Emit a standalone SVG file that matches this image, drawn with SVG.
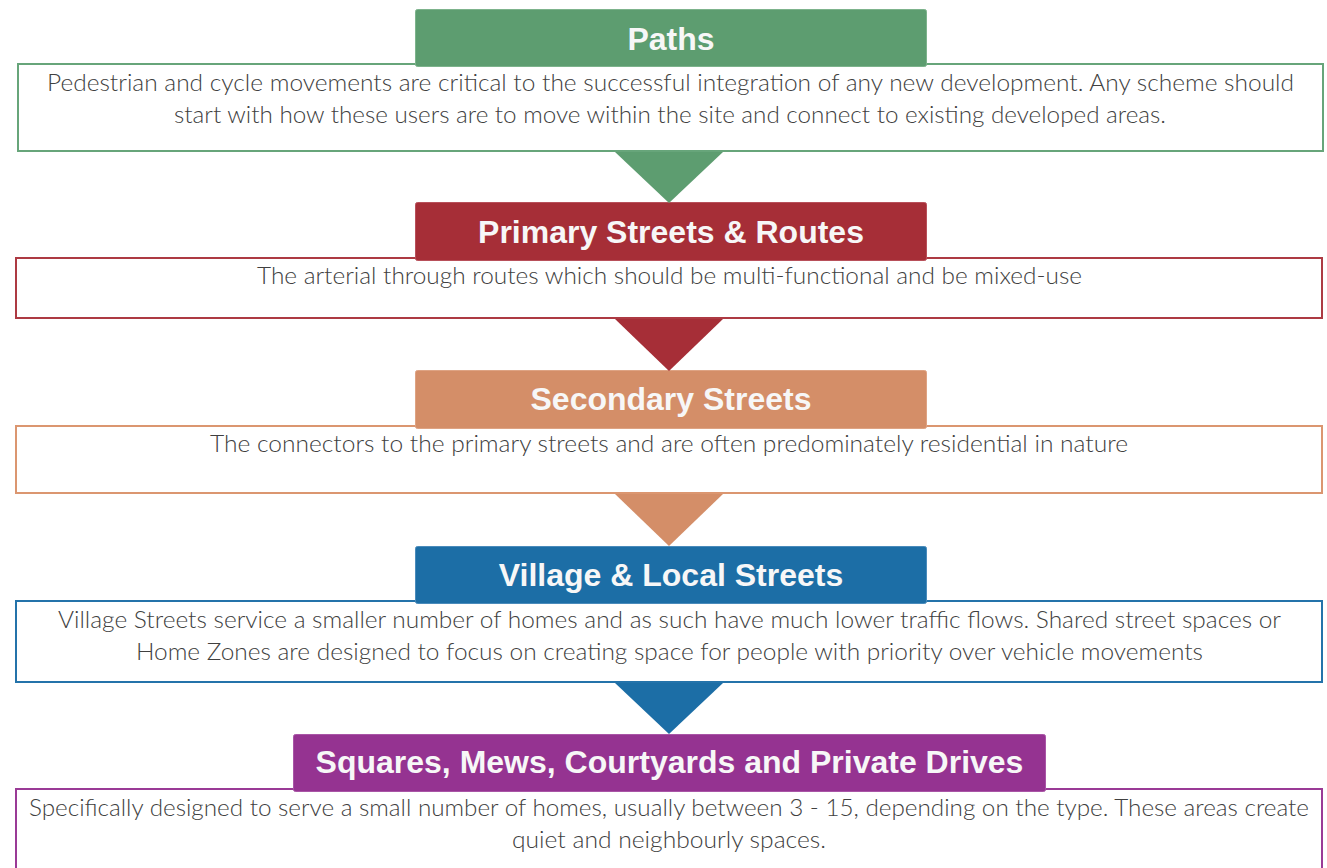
<svg xmlns="http://www.w3.org/2000/svg" width="1327" height="868" viewBox="0 0 1327 868">
<style>
.box{fill:#ffffff;stroke-width:2}
.hdr{stroke-width:1}
.ht{font-family:"Liberation Sans",Arial,sans-serif;font-weight:bold;font-size:32px;fill:#f7f7f7;text-anchor:middle}
.bt{font-family:Lato,"Open Sans","Liberation Sans",sans-serif;font-weight:300;font-size:23px;fill:#404040;text-anchor:middle}
</style>
<rect width="1327" height="868" fill="#ffffff"/>
<g id="node-paths">
<rect class="box" x="18" y="64" width="1305" height="87" stroke="#67a57a"/>
<rect class="hdr" x="415.5" y="9.5" width="511" height="57" rx="2" fill="#5d9d70" stroke="#7db38c"/>
<text class="ht" x="671" y="50">Paths</text>
<text class="bt" x="670.5" y="91" textLength="1247" lengthAdjust="spacingAndGlyphs">Pedestrian and cycle movements are critical to the successful integration of any new development. Any scheme should</text>
<text class="bt" x="670" y="123" textLength="992" lengthAdjust="spacingAndGlyphs">start with how these users are to move within the site and connect to existing developed areas.</text>
</g>
<g id="node-primary">
<rect class="box" x="16" y="258" width="1306" height="60" stroke="#ad3a43"/>
<rect class="hdr" x="415.5" y="202.5" width="511" height="58" rx="2" fill="#a62e37" stroke="#b8505a"/>
<text class="ht" x="671" y="243">Primary Streets &amp; Routes</text>
<text class="bt" x="669.5" y="284" textLength="825" lengthAdjust="spacingAndGlyphs">The arterial through routes which should be multi-functional and be mixed-use</text>
</g>
<g id="node-secondary">
<rect class="box" x="16" y="426" width="1306" height="67" stroke="#db9670"/>
<rect class="hdr" x="415.5" y="370.5" width="511" height="58" rx="2" fill="#d48e68" stroke="#dea383"/>
<text class="ht" x="671" y="410">Secondary Streets</text>
<text class="bt" x="669" y="452" textLength="918" lengthAdjust="spacingAndGlyphs">The connectors to the primary streets and are often predominately residential in nature</text>
</g>
<g id="node-village">
<rect class="box" x="16" y="601" width="1306" height="81" stroke="#2473aa"/>
<rect class="hdr" x="415.5" y="546.5" width="511" height="57" rx="2" fill="#1c6ea6" stroke="#4a8bbb"/>
<text class="ht" x="671" y="586">Village &amp; Local Streets</text>
<text class="bt" x="669.5" y="628" textLength="1223" lengthAdjust="spacingAndGlyphs">Village Streets service a smaller number of homes and as such have much lower traffic flows. Shared street spaces or</text>
<text class="bt" x="669.5" y="660" textLength="1067" lengthAdjust="spacingAndGlyphs">Home Zones are designed to focus on creating space for people with priority over vehicle movements</text>
</g>
<g id="node-squares">
<rect class="box" x="16" y="789" width="1306" height="100" stroke="#9a3a96"/>
<rect class="hdr" x="293.5" y="734.5" width="752" height="57" rx="2" fill="#953391" stroke="#a955a6"/>
<text class="ht" x="669.5" y="773">Squares, Mews, Courtyards and Private Drives</text>
<text class="bt" x="669" y="816" textLength="1280" lengthAdjust="spacingAndGlyphs">Specifically designed to serve a small number of homes, usually between 3 - 15, depending on the type. These areas create</text>
<text class="bt" x="669" y="848" textLength="314" lengthAdjust="spacingAndGlyphs">quiet and neighbourly spaces.</text>
</g>
<g id="connectors">
<polygon points="615,152 723,152 669,203" fill="#5d9d70"/>
<polygon points="615,319 723,319 669,371" fill="#a62e37"/>
<polygon points="615,494 723,494 669,546" fill="#d48e68"/>
<polygon points="615,683 723,683 669,734" fill="#1c6ea6"/>
</g>
</svg>
